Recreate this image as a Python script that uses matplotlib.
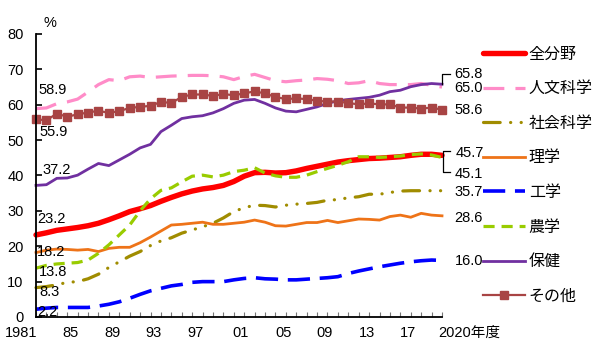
import matplotlib
matplotlib.use('Agg')
import matplotlib.pyplot as plt
import matplotlib.transforms as mtrans
import numpy as np

plt.rcParams['font.family'] = ['Liberation Sans', 'Noto Sans CJK JP', 'DejaVu Sans']
plt.rcParams['lines.scale_dashes'] = False

years = list(range(1981, 2021))

all_fields = [23.2, 23.8, 24.5, 24.9, 25.3, 25.8, 26.5, 27.5, 28.6, 29.8,
              30.6, 31.5, 32.7, 33.8, 34.8, 35.6, 36.2, 36.6, 37.2, 38.3,
              39.8, 40.8, 40.9, 40.7, 40.8, 41.3, 42.0, 42.6, 43.2, 43.8,
              44.2, 44.5, 44.8, 44.9, 45.1, 45.3, 45.7, 46.0, 46.0, 45.7]
humanities = [58.9, 59.1, 60.3, 60.8, 61.6, 63.6, 65.7, 67.1, 66.8, 67.9,
              68.1, 67.7, 67.9, 68.1, 68.2, 68.3, 68.3, 68.2, 67.9, 67.1,
              68.0, 68.6, 67.7, 66.8, 66.5, 66.8, 67.0, 67.4, 67.2, 66.8,
              66.0, 66.2, 66.8, 66.0, 65.7, 65.7, 65.7, 66.0, 65.5, 65.0]
social = [8.3, 8.6, 9.1, 9.8, 10.0, 10.8, 12.1, 14.0, 15.6, 17.2,
          18.5, 20.2, 21.5, 22.4, 23.7, 24.6, 25.5, 26.5, 28.0, 29.8,
          30.9, 31.6, 31.5, 31.1, 31.6, 31.9, 32.1, 32.4, 33.0, 33.2,
          33.7, 34.0, 34.7, 34.7, 35.2, 35.6, 35.7, 35.7, 35.7, 35.7]
science = [18.2, 18.9, 19.2, 19.1, 18.9, 19.1, 18.5, 19.4, 19.7, 19.7,
           21.0, 22.6, 24.3, 26.0, 26.2, 26.5, 26.8, 26.2, 26.2, 26.5,
           26.8, 27.4, 26.8, 25.8, 25.7, 26.2, 26.7, 26.7, 27.3, 26.7,
           27.2, 27.7, 27.6, 27.4, 28.4, 28.8, 28.2, 29.3, 28.8, 28.6]
engineering = [2.2, 2.5, 2.7, 2.7, 2.7, 2.7, 3.1, 3.6, 4.3, 5.3,
               6.4, 7.4, 8.1, 8.8, 9.2, 9.8, 10.0, 10.0, 10.0, 10.5,
               10.9, 11.1, 10.8, 10.7, 10.5, 10.5, 10.7, 10.9, 11.1, 11.4,
               12.3, 13.0, 13.6, 14.2, 14.7, 15.2, 15.6, 15.9, 16.1, 16.0]
agriculture = [13.8, 14.6, 15.0, 15.2, 15.4, 16.1, 18.0, 20.4, 23.2, 26.0,
               30.0, 33.4, 35.8, 36.5, 38.2, 39.8, 40.1, 39.6, 40.1, 41.1,
               41.5, 42.2, 40.7, 39.9, 39.5, 39.5, 40.1, 41.1, 42.0, 42.9,
               43.9, 45.3, 45.3, 45.1, 45.3, 45.5, 45.9, 46.1, 45.8, 45.1]
health = [37.2, 37.4, 39.2, 39.3, 40.1, 41.8, 43.4, 42.8, 44.4, 46.0,
          47.8, 48.8, 52.4, 54.2, 56.1, 56.6, 56.9, 57.7, 58.9, 60.4,
          61.3, 61.5, 60.4, 59.1, 58.2, 58.0, 58.7, 59.4, 60.4, 61.1,
          61.5, 61.8, 62.1, 62.7, 63.7, 64.1, 65.1, 65.7, 66.0, 65.8]
other = [55.9, 55.6, 57.5, 56.6, 57.3, 57.8, 58.3, 57.7, 58.2, 59.1,
         59.4, 59.7, 60.8, 60.5, 62.2, 62.9, 62.9, 62.5, 63.0, 62.7,
         63.2, 63.8, 63.2, 62.2, 61.6, 61.8, 61.6, 61.1, 60.9, 60.9,
         60.5, 60.1, 60.4, 60.1, 60.1, 59.2, 59.2, 58.9, 59.2, 58.6]

labels = ['全分野', '人文科学', '社会科学', '理学', '工学', '農学', '保健', 'その他']
start_labels = ['23.2', '58.9', '8.3', '18.2', '2.2', '13.8', '37.2', '55.9']
end_labels = ['45.7', '65.0', '35.7', '28.6', '16.0', '45.1', '65.8', '58.6']

tick_years = [1981, 1985, 1989, 1993, 1997, 2001, 2005, 2009, 2013, 2017, 2020]
tick_texts = ['1981', '85', '89', '93', '97', '01', '05', '09', '13', '17', '2020年度']

series = [all_fields, humanities, social, science, engineering, agriculture, health, other]
styles = [
    dict(color='#FF0000', lw=3.9, ls='-', solid_capstyle='round'),
    dict(color='#FF8CC8', lw=2.3, ls=(0, (15, 8))),
    dict(color='#A08C00', lw=2.3, ls=(0, (12, 7.5, 0.1, 7.5, 0.1, 7.5)), dash_capstyle='round'),
    dict(color='#EE7318', lw=2.0, ls='-'),
    dict(color='#0000FF', lw=2.6, ls=(0, (16, 7))),
    dict(color='#99CC00', lw=2.3, ls=(0, (8, 5))),
    dict(color='#7030A0', lw=2.0, ls='-'),
    dict(color='#A84444', lw=1.6, ls='-', marker='s', markersize=5.2,
         markerfacecolor='#A84444', markeredgecolor='#A84444'),
]

fig = plt.figure(figsize=(6, 3.49), dpi=100)
ax = fig.add_axes([36/600, 1-317/349, (442-36)/600, (317-34)/349])

handles = []
for s, st, lab in zip(series, styles, labels):
    h, = ax.plot(years, s, label=lab, clip_on=False, **st)
    handles.append(h)

ax.set_xlim(1981, 2020)
ax.set_ylim(0, 80)
for side in ['top', 'right']:
    ax.spines[side].set_visible(False)
for side in ['left', 'bottom']:
    ax.spines[side].set_linewidth(1.3)
    ax.spines[side].set_color('black')

ax.set_yticks(np.arange(0, 81, 10))
ax.tick_params(axis='y', direction='in', length=4, width=1.2, pad=9, labelsize=10.5)
ax.set_xticks(years)
xl = [tick_texts[tick_years.index(y)] if y in tick_years else '' for y in years]
ax.set_xticklabels(xl)
ax.tick_params(axis='x', direction='in', length=3.5, width=0.8, color='#777777',
               labelcolor='black', pad=6.5, labelsize=10.5)
nudge = {1981: 1, 1985: -7, 1989: -7, 1993: -7.5, 1997: -7.5, 2001: -4,
         2005: -2, 2009: -3, 2013: -2.5, 2017: -2.5, 2020: -4}
tl = ax.get_xticklabels()
for y, lab in zip(years, tl):
    if y in nudge:
        lab.set_transform(lab.get_transform() +
                          mtrans.ScaledTranslation(nudge[y]/100, 0, fig.dpi_scale_trans))
tl[0].set_horizontalalignment('right')
tl[-1].set_horizontalalignment('left')

ax.text(1982.3, 83, '%', fontsize=10.5, ha='center', va='center', clip_on=False)

start_pos = {'23.2': (1981.1, 27.7), '58.9': (1981.2, 64.1), '8.3': (1981.3, 7.1),
             '18.2': (1981.1, 18.4), '2.2': (1981.1, 1.3), '13.8': (1981.3, 12.7),
             '37.2': (1981.6, 41.5), '55.9': (1981.3, 52.3)}
for t in start_labels:
    x, y = start_pos[t]
    ax.text(x, y, t, fontsize=10.5, ha='left', va='center', clip_on=False)

end_pos = {'45.7': 46.3, '65.0': 64.7, '35.7': 35.3, '28.6': 28.0, '16.0': 15.8,
           '45.1': 40.4, '65.8': 68.6, '58.6': 58.5}
for t in end_labels:
    x0 = 2021.35 if t == '45.7' else 2021.2
    ax.text(x0, end_pos[t], t, fontsize=10.5, ha='left', va='center', clip_on=False)

bk = dict(color='black', lw=0.9, clip_on=False)
ax.plot([2020, 2020, 2020.75], [health[-1], 68.6, 68.6], **bk)
ax.plot([2020.75, 2020.1, 2020.1, 2020.75], [47.0, 47.0, 41.1, 41.1], **bk)

leg = ax.legend(handles=handles, loc='upper left',
                bbox_to_anchor=(485/600 - 0.003, 1 - 46.5/349),
                bbox_transform=fig.transFigure, frameon=False, fontsize=11.5,
                handlelength=2.6, handletextpad=0.25, labelspacing=1.23,
                borderpad=0, borderaxespad=0, numpoints=1)

fig.savefig('out.png', dpi=100)
